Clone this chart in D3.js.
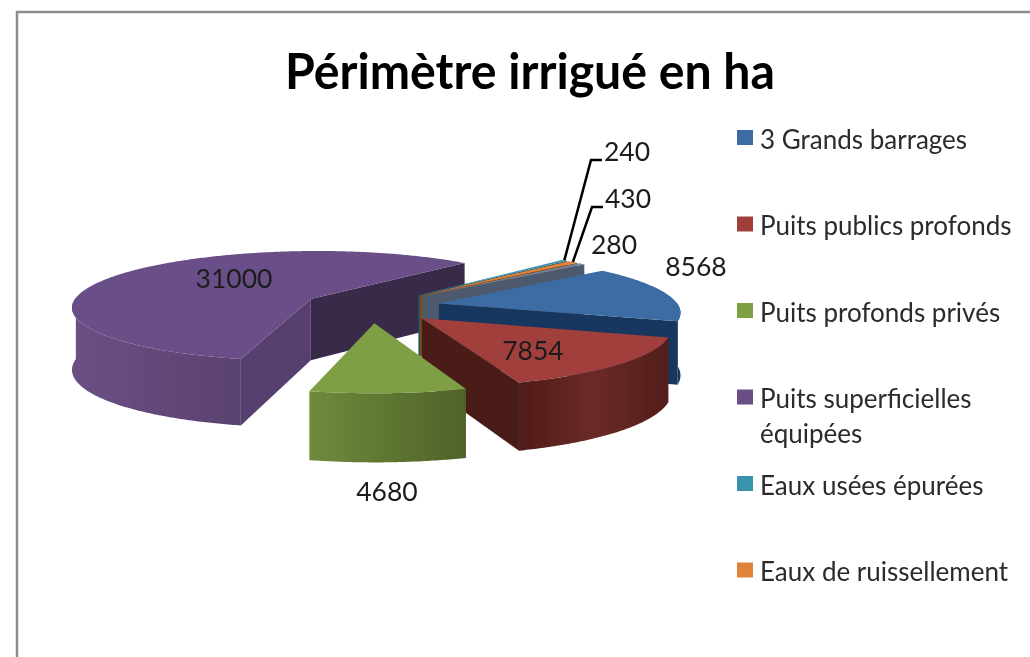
<!DOCTYPE html>
<html>
<head>
<meta charset="utf-8">
<script src="https://cdn.jsdelivr.net/npm/d3@7/dist/d3.min.js"></script>
<style>
  html, body { margin: 0; padding: 0; background: #fff; overflow: hidden; }
  text { font-family: Lato, "Noto Sans", sans-serif; fill: #1c1c1c; }
  svg { filter: blur(0.7px); }
</style>
</head>
<body>
<div id="chart"></div>
<script>
  // Périmètre irrigué en ha : camembert 3D éclaté
  const categories = [
    "3 Grands barrages",
    "Puits publics profonds",
    "Puits profonds privés",
    "Puits superficielles équipées",
    "Eaux usées épurées",
    "Eaux de ruissellement",
    null // 7e entrée coupée par le bas de l'image
  ];
  const values = [8568, 7854, 4680, 31000, 240, 430, 280];

  const topColors = ["#3d6ba3", "#a03f3c", "#7f9f45", "#6a4e87", "#3a93ad", "#e0823a", "#6f86a6"];
  const sideColors = ["#17375e", "#4a1c18", "#4f6228", "#3a2a4a", "#205867", "#974806", "#4d5a6e"];
  const startSideColor = "#57406f";
  const wallStops = [
    ["#17375e", "#17375e"],
    ["#4f1c18", "#6c2a27", "#521e1b"],
    ["#6f8a3c", "#4f6228"],
    ["#6a4f85", "#5a426f"],
    ["#205867", "#205867"],
    ["#974806", "#974806"],
    ["#4d5a6e", "#4d5a6e"]
  ];

  const width = 1030;
  const height = 657;

  // --- Géométrie du camembert ---
  const cx = 371, cy = 306.5;
  const rx = 240, ry = 56;    // rayons à l'écran
  const perspX = 0.13, perspY = 0.13, perspH = 0.08; // le fond est plus petit
  const depth = 62;           // épaisseur
  const explode = 0.29;
  const rotation = 50 * Math.PI / 180;
  const drawOrder = [3, 4, 5, 6, 0, 1, 2];

  function project(x, z, h = 0) {
    return [
      cx + x * rx / (1 + perspX * z),
      cy - z * ry / (1 + perspY * z) + h / (1 + perspH * z)
    ];
  }

  const slices = d3.pie()
    .sort(null)
    .startAngle(rotation)
    .endAngle(rotation + 2 * Math.PI)
    .value((d) => d)(values);

  // point de la part d, éclatée le long de son angle médian
  function pt(d, r, a, h = 0) {
    const m = (d.startAngle + d.endAngle) / 2;
    return project(
      explode * Math.sin(m) + r * Math.sin(a),
      explode * Math.cos(m) + r * Math.cos(a),
      h
    );
  }

  function rimAngles(d) {
    const step = 0.01;
    return d3.range(d.startAngle, d.endAngle, step).concat(d.endAngle);
  }

  const line = d3.line();

  const svg = d3.select("#chart").append("svg")
    .attr("width", width)
    .attr("height", height)
    .style("display", "block");

  // Cadre
  svg.append("path")
    .attr("d", line([[17, height], [17, 12], [width, 12]]))
    .attr("fill", "none")
    .attr("stroke", "#8c8c8c")
    .attr("stroke-width", 2.5);

  // Titre
  svg.append("text")
    .attr("x", 285)
    .attr("y", 89)
    .attr("textLength", 490)
    .attr("lengthAdjust", "spacingAndGlyphs")
    .style("font-size", "50px")
    .style("font-weight", "700")
    .style("fill", "#000")
    .text("Périmètre irrigué en ha");

  // Dégradés des parois courbes
  const defs = svg.append("defs");
  wallStops.forEach((stops, i) => {
    const g = defs.append("linearGradient").attr("id", `wall-${i}`);
    stops.forEach((c, k) => {
      g.append("stop")
        .attr("offset", k / (stops.length - 1))
        .attr("stop-color", c);
    });
  });

  // --- Parts, de l'arrière vers l'avant ---
  drawOrder.forEach((i) => {
    const d = slices[i];
    const g = svg.append("g").attr("class", "slice");

    // paroi extérieure (partie tournée vers le spectateur)
    const front = rimAngles(d).filter((a) => Math.cos(a) < 0.02);
    if (front.length > 1) {
      const upper = front.map((a) => pt(d, 1, a));
      const lower = front.map((a) => pt(d, 1, a, depth)).reverse();
      g.append("path")
        .attr("d", line(upper.concat(lower)) + "Z")
        .attr("fill", `url(#wall-${i})`);
    }

    // parois radiales visibles
    [
      [d.startAngle, Math.sin(d.startAngle) < 0, startSideColor],
      [d.endAngle, Math.sin(d.endAngle) > 0, sideColors[i]]
    ]
      .filter((w) => w[1])
      .forEach((w) => {
        const a = w[0];
        g.append("path")
          .attr("d", line([pt(d, 0, a), pt(d, 1, a), pt(d, 1, a, depth), pt(d, 0, a, depth)]) + "Z")
          .attr("fill", w[2]);
      });

    // dessus
    const top = [pt(d, 0, d.startAngle)].concat(rimAngles(d).map((a) => pt(d, 1, a)));
    g.append("path")
      .attr("d", line(top) + "Z")
      .attr("fill", topColors[i]);
  });

  // --- Étiquettes de valeur ---
  const labelSpots = [
    [696, 276], [533, 360], [387, 501], [234, 288], [627, 161], [628, 208], [614, 254]
  ];
  const leaderFor = [4, 5];

  leaderFor.forEach((i) => {
    const d = slices[i];
    const [lx, ly] = labelSpots[i];
    const m = (d.startAngle + d.endAngle) / 2;
    svg.append("path")
      .attr("d", line([pt(d, 1, m), [lx - 36, ly - 1], [lx - 25, ly - 1]]))
      .attr("fill", "none")
      .attr("stroke", "#000")
      .attr("stroke-width", 2.5);
  });

  svg.selectAll("text.value")
    .data(values)
    .enter()
    .append("text")
    .attr("class", "value")
    .attr("x", (d, i) => labelSpots[i][0])
    .attr("y", (d, i) => labelSpots[i][1])
    .attr("text-anchor", "middle")
    .style("font-size", "26.5px")
    .text((d) => d);

  // --- Légende ---
  const legendY = d3.scaleLinear().domain([0, 1]).range([148.5, 235]);
  const legendLines = {
    "Puits superficielles équipées": ["Puits superficielles", "équipées"]
  };

  categories.forEach((name, i) => {
    if (!name) return;
    const y = legendY(i);
    svg.append("rect")
      .attr("x", 737)
      .attr("y", y - 18.5)
      .attr("width", 16)
      .attr("height", 15)
      .attr("fill", topColors[i]);
    const t = svg.append("text")
      .attr("x", 760)
      .attr("y", y)
      .style("font-size", "26px")
      .style("fill", "#2b2b2b");
    (legendLines[name] || [name]).forEach((s, k) => {
      t.append("tspan")
        .attr("x", 760)
        .attr("dy", k ? 35 : 0)
        .text(s);
    });
  });
</script>
</body>
</html>
